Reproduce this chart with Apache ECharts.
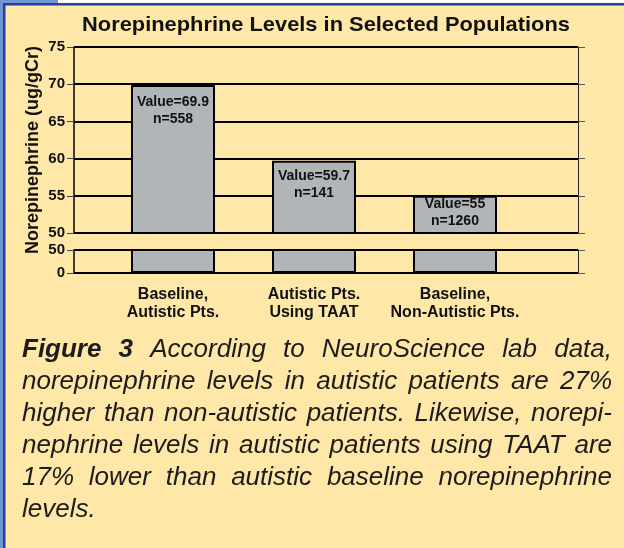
<!DOCTYPE html>
<html>
<head>
<meta charset="utf-8">
<script src="https://cdn.jsdelivr.net/npm/echarts@6/dist/echarts.min.js"></script>
<style>
  html, body { margin: 0; padding: 0; background: #ffe7a8; }
  #chart { width: 624px; height: 548px; }
</style>
</head>
<body>
<div id="chart"></div>
<script>
  // chart data
  const categories = ['Baseline,\nAutistic Pts.', 'Autistic Pts.\nUsing TAAT', 'Baseline,\nNon-Autistic Pts.'];
  const values = [69.9, 59.7, 55];
  const sampleSizes = [558, 141, 1260];
  const upperTicks = [50, 55, 60, 65, 70, 75]; // broken axis, top part
  const lowerTicks = [0, 50]; // broken axis, bottom part
  const titleText = 'Norepinephrine Levels in Selected Populations';
  const yName = 'Norepinephrine (ug/gCr)';
  // '*' marks bold words
  const captionLines = [
    ['*Figure', '*3', 'According', 'to', 'NeuroScience', 'lab', 'data,'],
    ['norepinephrine', 'levels', 'in', 'autistic', 'patients', 'are', '27%'],
    ['higher', 'than', 'non-autistic', 'patients.', 'Likewise,', 'norepi-'],
    ['nephrine', 'levels', 'in', 'autistic', 'patients', 'using', 'TAAT', 'are'],
    ['17%', 'lower', 'than', 'autistic', 'baseline', 'norepinephrine'],
    ['levels.'],
  ];

  const FONT = "'Liberation Sans', Arial, sans-serif";
  const INK = '#111';
  const BAR = '#b2b5b8';
  const labelGap = [9, 7, 0];

  const CAP_SIZE = 26;
  const CAP_LEFT = 22;
  const CAP_RIGHT = 612;
  const CAP_TOP = 350;
  const CAP_LINE = 32;

  const measureCtx = document.createElement('canvas').getContext('2d');
  function capFont(bold) {
    return 'italic ' + (bold ? 'bold ' : '') + CAP_SIZE + 'px ' + FONT;
  }

  // justified caption, one text element per word
  function captionGraphics() {
    const out = [];
    captionLines.forEach((line, li) => {
      const words = line.map(w => ({ text: w.replace(/^\*/, ''), bold: w[0] === '*' }));
      words.forEach(w => {
        measureCtx.font = capFont(w.bold);
        w.width = measureCtx.measureText(w.text).width;
      });
      const total = words.reduce((s, w) => s + w.width, 0);
      measureCtx.font = capFont(false);
      const last = li === captionLines.length - 1;
      const gap = last ? measureCtx.measureText(' ').width : (CAP_RIGHT - CAP_LEFT - total) / (words.length - 1);
      let x = CAP_LEFT;
      words.forEach(w => {
        out.push({
          type: 'text',
          x: x,
          y: CAP_TOP + li * CAP_LINE,
          style: { text: w.text, font: capFont(w.bold), fill: '#1c1c1c', verticalAlign: 'middle' },
        });
        x += w.width + gap;
      });
    });
    return out;
  }

  function frameAxes(ticks, gridIndex) {
    const range = { min: ticks[0], max: ticks[ticks.length - 1], interval: ticks[1] - ticks[0] };
    return [
      Object.assign({
        gridIndex: gridIndex,
        type: 'value',
        position: 'left',
        axisLine: { show: true, lineStyle: { color: '#000', width: 1.5 } },
        axisTick: { show: true, length: 7, lineStyle: { color: '#444' } },
        axisLabel: { margin: 9, fontSize: 15, fontWeight: 'bold', color: INK, fontFamily: FONT },
        splitLine: { show: true, lineStyle: { color: '#000', width: 2 } },
      }, range),
      Object.assign({
        gridIndex: gridIndex,
        type: 'value',
        position: 'right',
        axisLine: { show: true, lineStyle: { color: '#222', width: 1 } },
        axisTick: { show: true, length: 7, lineStyle: { color: '#555' } },
        axisLabel: { show: false },
        splitLine: { show: false },
      }, range),
    ];
  }

  function barAxis(ticks, gridIndex) {
    return { gridIndex: gridIndex, type: 'value', min: ticks[0], max: ticks[ticks.length - 1], show: false };
  }

  const chart = echarts.init(document.getElementById('chart'));

  chart.setOption({
    animation: false,
    backgroundColor: '#ffe7a8',
    textStyle: { fontFamily: FONT },
    grid: [
      { left: 74, right: 46, top: 47, height: 186, outerBoundsMode: 'none' },
      { left: 102.5, right: 98.5, top: 47, height: 186, outerBoundsMode: 'none' },
      { left: 74, right: 46, top: 250, height: 23, outerBoundsMode: 'none' },
      { left: 102.5, right: 98.5, top: 250, height: 23, outerBoundsMode: 'none' },
    ],
    xAxis: [
      { gridIndex: 0, type: 'category', data: [''], show: false },
      { gridIndex: 1, type: 'category', data: categories, show: false },
      { gridIndex: 2, type: 'category', data: [''], show: false },
      {
        gridIndex: 3,
        type: 'category',
        data: categories,
        axisLine: { show: false },
        axisTick: { show: false },
        axisLabel: {
          interval: 0,
          margin: 13,
          fontSize: 16,
          fontWeight: 'bold',
          lineHeight: 18,
          color: INK,
          fontFamily: FONT,
        },
      },
    ],
    yAxis: [
      ...frameAxes(upperTicks, 0),
      barAxis(upperTicks, 1),
      ...frameAxes(lowerTicks, 2),
      barAxis(lowerTicks, 3),
    ],
    series: [
      {
        type: 'bar',
        xAxisIndex: 1,
        yAxisIndex: 2,
        barWidth: 84,
        clip: true,
        data: values.map((v, i) => ({ value: v, label: { distance: labelGap[i] } })),
        itemStyle: { color: BAR, borderColor: '#000', borderWidth: 2 },
        label: {
          show: true,
          position: 'insideTop',
          formatter: p => 'Value=' + p.value + '\nn=' + sampleSizes[p.dataIndex],
          fontSize: 14,
          fontWeight: 'bold',
          lineHeight: 17,
          color: INK,
          fontFamily: FONT,
        },
      },
      {
        type: 'bar',
        xAxisIndex: 3,
        yAxisIndex: 5,
        barWidth: 84,
        clip: true,
        data: values,
        itemStyle: { color: BAR, borderColor: '#000', borderWidth: 2 },
      },
    ],
    graphic: [
      // frame borders
      { type: 'rect', shape: { x: 0, y: 0, width: 624, height: 3 }, style: { fill: '#ffffff' }, z: 10 },
      { type: 'rect', shape: { x: 0, y: 0, width: 58, height: 3 }, style: { fill: '#7094d6' }, z: 10 },
      { type: 'rect', shape: { x: 0, y: 0, width: 3, height: 548 }, style: { fill: '#7094d6' }, z: 10 },
      { type: 'rect', shape: { x: 3, y: 3, width: 621, height: 2.5 }, style: { fill: '#26409c' }, z: 10 },
      { type: 'rect', shape: { x: 3, y: 3, width: 2.5, height: 545 }, style: { fill: '#26409c' }, z: 10 },
      {
        type: 'text',
        x: 326,
        y: 25,
        scaleX: 1.04,
        style: { text: titleText, font: 'bold 21px ' + FONT, fill: INK, align: 'center', verticalAlign: 'middle' },
      },
      {
        type: 'text',
        x: 33,
        y: 150,
        rotation: Math.PI / 2,
        style: { text: yName, font: 'bold 18px ' + FONT, fill: INK, align: 'center', verticalAlign: 'middle' },
      },
      ...captionGraphics(),
    ],
  });
</script>
</body>
</html>
